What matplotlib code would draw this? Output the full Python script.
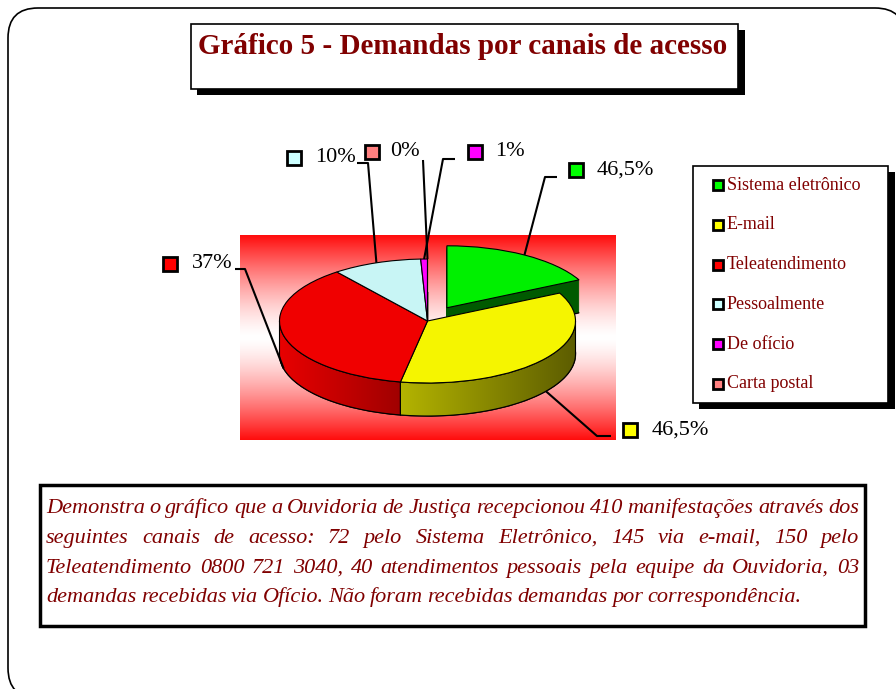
import numpy as np
import matplotlib
matplotlib.use('Agg')
import matplotlib.pyplot as plt
from matplotlib.patches import FancyBboxPatch, Rectangle, Polygon
from matplotlib.colors import to_rgb

# ---------------- data ----------------
categories = ["Sistema eletrônico", "E-mail", "Teleatendimento",
              "Pessoalmente", "De ofício", "Carta postal"]
values = [72, 145, 150, 40, 3, 0]
pct_labels = ["46,5%", "46,5%", "37%", "10%", "1%", "0%"]
top_colors = ['#00F000', '#F5F500', '#F00000', '#C8F5F5', '#FF00FF', '#FF8080']
side_colors = ['#005A00', '#8C8C00', '#C80000', '#8AB0B0', '#A000A0', '#B05050']
legend_colors = ['#00FF00', '#FFFF00', '#FF0000', '#CCFFFF', '#FF00FF', '#FF8080']
explode = [0.25, 0, 0, 0, 0, 0]

title = "Gráfico 5 - Demandas por canais de acesso"
body_lines = [
    "Demonstra o gráfico que a Ouvidoria de Justiça recepcionou 410 manifestações através dos",
    "seguintes canais de acesso: 72 pelo Sistema Eletrônico, 145 via e-mail, 150 pelo",
    "Teleatendimento 0800 721 3040, 40 atendimentos pessoais pela equipe da Ouvidoria, 03",
    "demandas recebidas via Ofício. Não foram recebidas demandas por correspondência.",
]

# ---------------- layout ----------------
W, H = 896, 689
SERIF = ['Liberation Serif', 'DejaVu Serif']
DARKRED = '#800000'

fig = plt.figure(figsize=(W / 100, H / 100), dpi=100)
bg = fig.add_axes([0, 0, 1, 1])
bg.set_xlim(0, W)
bg.set_ylim(H, 0)
bg.axis('off')

# outer rounded frame
bg.add_patch(FancyBboxPatch((8, 8), 897, 690, boxstyle='round,pad=0,rounding_size=30',
                            fc='white', ec='black', lw=1.2, zorder=0))

# title box with shadow
bg.add_patch(Rectangle((197, 30), 548, 65, fc='black', ec='none', zorder=1))
bg.add_patch(Rectangle((191, 24), 547, 65, fc='white', ec='black', lw=1.2, zorder=2))
bg.text(463, 54, title, ha='center', va='baseline', fontsize=21, fontweight='bold',
        color=DARKRED, family=SERIF, zorder=3)

# legend box with shadow
bg.add_patch(Rectangle((699, 172), 196, 237, fc='black', ec='none', zorder=1))
bg.add_patch(Rectangle((693, 166), 195, 237, fc='white', ec='black', lw=1.2, zorder=2))
for i, (cat, col) in enumerate(zip(categories, legend_colors)):
    yy = 185 + 39.8 * i
    bg.add_patch(Rectangle((713, yy - 5), 10, 10, fc=col, ec='black', lw=2, zorder=3))
    bg.text(727, yy, cat, ha='left', va='center', fontsize=13, color=DARKRED,
            family=SERIF, zorder=3)

# text box
bg.add_patch(Rectangle((40, 485), 825, 141, fc='white', ec='black', lw=2.5, zorder=1))

# ---------------- pie axes ----------------
GX0, GX1, GY0, GY1 = 240, 615, 235, 440      # gradient rectangle (pixels)
CX, CY = 427.5, 321                          # pie centre (pixels)
SX, SY = 148.0, 62.0                         # pixels per data unit
DEPTH_PX = 33
depth = DEPTH_PX / SY

pax = fig.add_axes([GX0 / W, (H - GY1) / H, (GX1 - GX0) / W, (GY1 - GY0) / H])
xlim = ((GX0 - CX) / SX, (GX1 - CX) / SX)
ylim = (-(GY1 - CY) / SY, (CY - GY0) / SY)

# gradient background
n = 256
t = np.linspace(0, 1, n)
s = (np.abs(t - 0.5) * 2) ** 1.4
red = np.array([1.0, 0.05, 0.05])
white = np.array([1.0, 1.0, 1.0])
grad = (white[None, :] * (1 - s[:, None]) + red[None, :] * s[:, None])[:, None, :]
pax.imshow(grad, extent=(xlim[0], xlim[1], ylim[0], ylim[1]), origin='lower',
           aspect='auto', zorder=0, interpolation='bilinear')

# extruded side: stacked pies
for k in range(DEPTH_PX, 0, -1):
    wedges, _ = pax.pie(values, explode=explode, colors=side_colors, startangle=90,
                        counterclock=False, center=(0, -k * depth / DEPTH_PX), radius=1,
                        wedgeprops=dict(linewidth=0.4, zorder=1))
    for w, c in zip(wedges, side_colors):
        if k == DEPTH_PX:
            w.set_edgecolor('black')
            w.set_linewidth(1.0)
        else:
            w.set_edgecolor(c)

# slice angles
vals = np.array(values, dtype=float)
cum = np.concatenate([[0], np.cumsum(vals)]) / vals.sum()
th_start = 90 - 360 * cum[:-1]
th_end = 90 - 360 * cum[1:]

# shaded front walls for the front slices
wall_shades = {1: ('#B4B400', '#5C5C00'), 2: ('#E80000', '#A00000')}
for i, (cl, cr) in wall_shades.items():
    a0, a1 = th_end[i], th_start[i]
    lo, hi = max(a0, -180), min(a1, 0)
    tt = np.radians(np.linspace(lo, hi, 80))
    xs, ys = np.cos(tt), np.sin(tt)
    pts = np.concatenate([np.c_[xs, ys], np.c_[xs[::-1], ys[::-1] - depth]])
    poly = Polygon(pts, closed=True, fc='none', ec='none', transform=pax.transData)
    pax.add_patch(poly)
    g = np.linspace(0, 1, 200)
    c0, c1 = np.array(to_rgb(cl)), np.array(to_rgb(cr))
    img = (c0[None, :] * (1 - g[:, None]) + c1[None, :] * g[:, None])[None, :, :]
    im = pax.imshow(img, extent=(xs.min(), xs.max(), ys.min() - depth, ys.max()),
                    origin='lower', aspect='auto', zorder=1.5, interpolation='bilinear')
    im.set_clip_path(poly)
    pax.add_patch(Polygon(pts, closed=True, fc='none', ec='black', lw=0.8,
                          transform=pax.transData, zorder=1.6))

# top faces
pax.pie(values, explode=explode, colors=top_colors, startangle=90, counterclock=False,
        radius=1, wedgeprops=dict(edgecolor='black', linewidth=0.8, zorder=2))

pax.set_aspect('auto')
pax.set_xlim(*xlim)
pax.set_ylim(*ylim)
pax.axis('off')

# ---------------- overlay for data labels with leader lines ----------------
top = fig.add_axes([0, 0, 1, 1])
top.set_xlim(0, W)
top.set_ylim(H, 0)
top.axis('off')
top.patch.set_alpha(0)

label_layout = [
    dict(elbow=(545, 177), end=(557, 177), box=(576, 170), tx=597),
    dict(elbow=(597, 436), end=(611, 436), box=(630, 430), tx=652),
    dict(elbow=(245, 269), end=(235, 269), box=(170, 264), tx=192),
    dict(elbow=(368, 163), end=(357, 163), box=(294, 158), tx=315),
    dict(elbow=(443, 159), end=(455, 159), box=(475, 152), tx=495),
    dict(elbow=(423, 160), end=(423, 160), box=(372, 152), tx=390),
]
to_top = top.transData.inverted()
for i, lay in enumerate(label_layout):
    mid = np.radians((th_start[i] + th_end[i]) / 2)
    ax_ = np.cos(mid) + explode[i] * np.cos(mid)
    ay_ = np.sin(mid) + explode[i] * np.sin(mid)
    if np.sin(mid) < 0:
        ay_ -= depth
    px, py = to_top.transform(pax.transData.transform((ax_, ay_)))
    ex, ey = lay['elbow']
    nx, ny = lay['end']
    top.plot([px, ex, nx], [py, ey, ny], color='black', lw=1.5, zorder=5,
             solid_capstyle='butt')
    bx, by = lay['box']
    top.add_patch(Rectangle((bx - 7, by - 7), 14, 14, fc=legend_colors[i], ec='black',
                            lw=2, zorder=6))
    top.text(lay['tx'], by, pct_labels[i], ha='left', va='center', fontsize=16,
             color='black', family=SERIF, zorder=6)

# ---------------- justified body text ----------------
renderer = fig.canvas.get_renderer()
X0, X1 = 46, 859
baselines = [513, 543, 573, 602]
for li, (line, yb) in enumerate(zip(body_lines, baselines)):
    words = line.split(' ')
    texts = [bg.text(0, yb, w, ha='left', va='baseline', fontsize=16, style='italic',
                     color=DARKRED, family=SERIF, zorder=3) for w in words]
    widths = [tx.get_window_extent(renderer).width for tx in texts]
    if li < len(body_lines) - 1:
        gap = (X1 - X0 - sum(widths)) / (len(words) - 1)
    else:
        gap = 4.5
    x = X0
    for tx, wdt in zip(texts, widths):
        tx.set_x(x)
        x += wdt + gap

fig.savefig('out.png', dpi=100)
